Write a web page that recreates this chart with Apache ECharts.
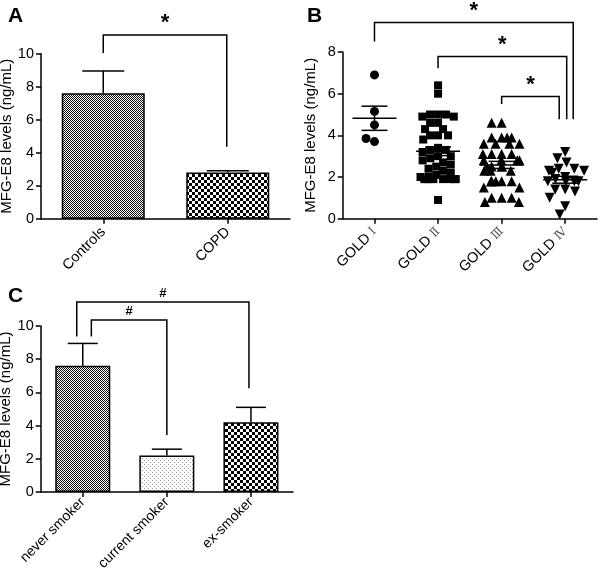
<!DOCTYPE html>
<html><head><meta charset="utf-8">
<script src="https://cdn.jsdelivr.net/npm/echarts@6/dist/echarts.min.js"></script>
<style>html,body{margin:0;padding:0;background:#fff}#c{width:600px;height:572px}</style>
</head><body><div id="c"></div>
<script>
// ---------- DATA ----------
const catsA = ['Controls', 'COPD'];
const meanA = [7.6, 2.8];
const semA = [1.35, 0.1];

const catsB = ['GOLD Ⅰ', 'GOLD Ⅱ', 'GOLD Ⅲ', 'GOLD Ⅳ'];
const gold1 = [6.9, 5.15, 4.5, 3.7, 3.85];
const gold2 = [6.4, 6.0, 5.0, 5.0, 5.0, 4.9, 4.9, 4.6, 4.6, 4.3, 4.3, 4.0, 4.0, 4.0, 3.8, 3.4, 3.3, 3.3, 3.2, 3.0, 3.0,
               2.9, 2.8, 2.7, 2.6, 2.5, 2.4, 2.3, 2.2, 2.1, 2.0, 2.0, 1.9, 1.9, 1.9, 1.9, 1.9, 1.9, 1.9, 1.9, 0.9];
const gold3 = [4.6, 4.6, 3.9, 3.9, 3.9, 3.9, 3.6, 3.6, 3.6, 3.6, 3.1, 3.1, 3.1, 3.1, 2.8, 2.8, 2.8, 2.8,
               2.5, 2.5, 2.5, 2.5, 2.3, 2.3, 2.3, 1.8, 1.8, 1.8, 1.8, 1.8, 1.8, 1.5, 1.5, 1.0, 1.0, 1.0, 0.8, 0.8];
const gold4 = [3.2, 2.9, 2.7, 2.4, 2.4, 2.3, 2.3, 2.2, 2.0, 1.9, 1.8, 1.8, 1.8, 1.8, 1.4, 1.4, 1.3, 1.0, 0.6, 0.2];

const catsC = ['never smoker', 'current smoker', 'ex-smoker'];
const meanC = [7.6, 2.2, 4.2];
const semC = [1.35, 0.38, 0.9];

const ticksAC = [0, 2, 4, 6, 8, 10];
const ticksB = [0, 2, 4, 6, 8];

// significance brackets: [fromCat, toCat, level, leftLegEnd, rightLegEnd, mark]
const sigA = [[0, 1, 11.13, 10.05, 4.36, '*']];
const sigB = [[0, 3, 9.41, 8.5, 4.77, '*'], [1, 3, 7.78, 7.22, 4.77, '*'], [2, 3, 5.86, 5.51, 4.77, '*']];
const sigC = [[0, 1, 10.36, 9.36, 3.43, '#'], [0, 2, 11.45, 9.36, 6.25, '#']];

// ---------- STYLE ----------
const FONT = 'Liberation Sans, Arial, sans-serif';
const sigOffB = [[0, 8], [0, 1.5], [0, -6]];   // pixel x offsets of legs
const sigOffC = [[8.6, 0], [-6, -2]];
const sigOffA = [[0, -1]];

function pattern(kind) {
  const c = document.createElement('canvas');
  const ctx = c.getContext('2d');
  if (kind === 'fine') {
    c.width = 2; c.height = 2;
    ctx.fillStyle = '#fff'; ctx.fillRect(0, 0, 2, 2);
    ctx.fillStyle = '#111'; ctx.fillRect(0, 0, 1, 1); ctx.fillRect(1, 1, 1, 1);
  } else if (kind === 'checker') {
    c.width = 6; c.height = 6;
    ctx.fillStyle = '#fff'; ctx.fillRect(0, 0, 6, 6);
    ctx.fillStyle = '#000'; ctx.fillRect(0, 0, 3, 3); ctx.fillRect(3, 3, 3, 3);
  } else {
    c.width = 4; c.height = 4;
    ctx.fillStyle = '#fff'; ctx.fillRect(0, 0, 4, 4);
    ctx.fillStyle = '#999'; ctx.fillRect(0, 0, 1, 1); ctx.fillRect(2, 2, 1, 1);
  }
  return { image: c, repeat: 'repeat' };
}
const fillA = [pattern('fine'), pattern('checker')];
const fillC = [pattern('fine'), pattern('dots'), pattern('checker')];

function mean(a) { return a.reduce((s, v) => s + v, 0) / a.length; }
function sem(a) {
  const m = mean(a);
  const sd = Math.sqrt(a.reduce((s, v) => s + (v - m) * (v - m), 0) / (a.length - 1));
  return sd / Math.sqrt(a.length);
}
const goldAll = [gold1, gold2, gold3, gold4];
const statsB = goldAll.map((g, i) => [i, mean(g), sem(g)]);

const lineStyle = { stroke: '#000', lineWidth: 1.5 };

function yAxis(gi, max, ticks) {
  return {
    type: 'value', gridIndex: gi, min: 0, max: max, interval: 2,
    name: 'MFG-E8 levels (ng/mL)', nameLocation: 'middle', nameGap: 24,
    nameTextStyle: { fontSize: 15, color: '#000', fontFamily: FONT },
    axisLine: { show: true, lineStyle: { color: '#000', width: 1.5 } },
    axisTick: { show: true, length: 5, lineStyle: { color: '#000', width: 1.5 } },
    axisLabel: { color: '#000', fontSize: 14.5, fontFamily: FONT, margin: 7,
      formatter: v => ticks.includes(v) ? String(v) : '' },
    splitLine: { show: false }
  };
}
function xAxis(gi, cats, fontSize, margin, extra) {
  return Object.assign({
    type: 'category', gridIndex: gi, data: cats,
    axisLine: { show: true, lineStyle: { color: '#000', width: 1.5 } },
    axisTick: { show: true, alignWithLabel: true, length: 5, lineStyle: { color: '#000', width: 1.5 } },
    axisLabel: { color: '#000', fontSize: fontSize, fontFamily: FONT, rotate: 45, margin: margin, interval: 0 },
    splitLine: { show: false }
  }, extra || {});
}

function errSeries(xi, means, sems, capHalf) {
  return {
    type: 'custom', xAxisIndex: xi, yAxisIndex: xi, z: 5, clip: false,
    data: means.map((m, i) => [i, m, m + sems[i]]),
    renderItem: (params, api) => {
      const b = api.coord([api.value(0), api.value(1)]);
      const t = api.coord([api.value(0), api.value(2)]);
      return { type: 'group', children: [
        { type: 'line', shape: { x1: b[0], y1: b[1], x2: t[0], y2: t[1] }, style: lineStyle },
        { type: 'line', shape: { x1: t[0] - capHalf, y1: t[1], x2: t[0] + capHalf, y2: t[1] }, style: lineStyle }
      ]};
    }
  };
}

function sigSeries(xi, sig, offs, fontSize, textLift) {
  return {
    type: 'custom', xAxisIndex: xi, yAxisIndex: xi, z: 6, clip: false, silent: true,
    data: sig.map(s => [s[0], s[2]]),
    renderItem: (params, api) => {
      const s = sig[params.dataIndex];
      const o = offs[params.dataIndex];
      const l = api.coord([s[0], s[2]]), r = api.coord([s[1], s[2]]);
      const le = api.coord([s[0], s[3]]), re = api.coord([s[1], s[4]]);
      const xl = l[0] + o[0], xr = r[0] + o[1], y = l[1];
      return { type: 'group', children: [
        { type: 'polyline', shape: { points: [[xl, le[1]], [xl, y], [xr, y], [xr, re[1]]] },
          style: { stroke: '#000', lineWidth: 1.5, fill: null } },
        { type: 'text', style: { text: s[5], x: (xl + xr) / 2, y: y - textLift, align: 'center',
          verticalAlign: 'middle', fontSize: fontSize, fontWeight: 'bold', fontFamily: FONT, fill: '#000' } }
      ]};
    }
  };
}

function meanSeries(xi) {
  return {
    type: 'custom', xAxisIndex: xi, yAxisIndex: xi, z: 4, clip: false,
    data: statsB,
    renderItem: (params, api) => {
      const x = api.value(0), m = api.value(1), e = api.value(2);
      const pm = api.coord([x, m]), pt = api.coord([x, m + e]), pb = api.coord([x, m - e]);
      return { type: 'group', children: [
        { type: 'line', shape: { x1: pm[0] - 22, y1: pm[1], x2: pm[0] + 22, y2: pm[1] }, style: lineStyle },
        { type: 'line', shape: { x1: pt[0] - 13, y1: pt[1], x2: pt[0] + 13, y2: pt[1] }, style: lineStyle },
        { type: 'line', shape: { x1: pb[0] - 13, y1: pb[1], x2: pb[0] + 13, y2: pb[1] }, style: lineStyle },
        { type: 'line', shape: { x1: pt[0], y1: pt[1], x2: pb[0], y2: pb[1] }, style: lineStyle }
      ]};
    }
  };
}

const symbols = [['circle', 9, 0], ['rect', 8, 0], ['triangle', 10, 0], ['triangle', 10, 180]];

const chart = echarts.init(document.getElementById('c'), null, { renderer: 'canvas' });
chart.setOption({
  backgroundColor: '#fff',
  animation: false,
  title: [
    { text: 'A', left: 3, top: 1, textStyle: { fontSize: 21, fontWeight: 'bold', color: '#000', fontFamily: FONT } },
    { text: 'B', left: 302, top: 1, textStyle: { fontSize: 21, fontWeight: 'bold', color: '#000', fontFamily: FONT } },
    { text: 'C', left: 3, top: 281, textStyle: { fontSize: 21, fontWeight: 'bold', color: '#000', fontFamily: FONT } }
  ],
  grid: [
    { left: 41, top: 53.7, width: 249, height: 165, containLabel: false, outerBoundsMode: 'none' },
    { left: 342.7, top: 52, width: 254.3, height: 166.7, containLabel: false, outerBoundsMode: 'none' },
    { left: 40.7, top: 326, width: 252.3, height: 166, containLabel: false, outerBoundsMode: 'none' }
  ],
  xAxis: [
    xAxis(0, catsA, 14.5, 11),
    xAxis(1, catsB, 14.5, 11, { jitter: 38, jitterOverlap: false, jitterMargin: 0,
      axisLabel: { color: '#000', fontSize: 14.5, fontFamily: FONT, rotate: 45, margin: 11, interval: 0,
        formatter: v => { const p = v.split(' '); return '{a|' + p[0] + ' }{b|' + p[1] + '}'; },
        rich: { a: { fontSize: 14.5, fontFamily: FONT, color: '#000' },
                b: { fontSize: 12, fontFamily: 'DejaVu Serif, serif', color: '#555' } } } }),
    xAxis(2, catsC, 14, 8)
  ],
  yAxis: [yAxis(0, 10, ticksAC), yAxis(1, 8, ticksB), yAxis(2, 10, ticksAC)],
  series: [
    { type: 'bar', xAxisIndex: 0, yAxisIndex: 0, barWidth: 83,
      data: meanA.map((v, i) => ({ value: v, itemStyle: { color: fillA[i], borderColor: '#000', borderWidth: 1.5 } })) },
    errSeries(0, meanA, semA, 21),
    sigSeries(0, sigA, sigOffA, 22, 12),
    ...goldAll.map((g, i) => ({
      type: 'scatter', xAxisIndex: 1, yAxisIndex: 1, symbol: symbols[i][0], symbolSize: symbols[i][1],
      symbolRotate: symbols[i][2], itemStyle: { color: '#000', opacity: 1 },
      data: g.map(v => [i, v])
    })),
    meanSeries(1),
    sigSeries(1, sigB, sigOffB, 22, 12),
    { type: 'bar', xAxisIndex: 2, yAxisIndex: 2, barWidth: 55,
      data: meanC.map((v, i) => ({ value: v, itemStyle: { color: fillC[i], borderColor: '#000', borderWidth: 1.5 } })) },
    errSeries(2, meanC, semC, 15),
    sigSeries(2, sigC, sigOffC, 13, 9)
  ]
});
</script></body></html>
